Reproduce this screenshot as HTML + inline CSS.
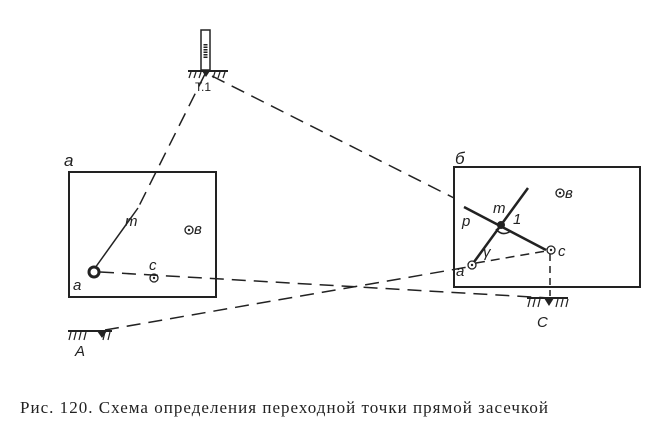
<!DOCTYPE html>
<html><head><meta charset="utf-8"><style>
body{margin:0;background:#fff;width:659px;height:447px;overflow:hidden}
svg{display:block}
text{font-family:"Liberation Sans",sans-serif;fill:#222}
</style></head><body>
<svg width="659" height="447" viewBox="0 0 659 447">
<g stroke="#222" fill="none">
<rect x="69" y="172" width="147" height="125" stroke-width="2"/>
<rect x="454" y="167" width="186" height="120" stroke-width="2"/>
<rect x="201" y="30" width="9" height="40" stroke-width="1.5"/>
<line x1="205.5" y1="44" x2="205.5" y2="58" stroke-width="4" stroke-dasharray="1.5,1"/>
<line x1="188" y1="71" x2="228" y2="71" stroke-width="2"/>
<g stroke-width="1.2"><line x1="191" y1="72" x2="189" y2="78"/><line x1="196" y1="72" x2="194" y2="78"/><line x1="201" y1="72" x2="199" y2="78"/><line x1="215" y1="72" x2="213" y2="78"/><line x1="220" y1="72" x2="218" y2="78"/><line x1="225" y1="72" x2="223" y2="78"/></g>
<g stroke-width="1.5" stroke-dasharray="14,8">
<line x1="205" y1="74" x2="138" y2="208"/>
<line x1="212" y1="76" x2="454" y2="198"/>
<line x1="100" y1="272" x2="549" y2="298"/>
<line x1="105" y1="330" x2="468" y2="267"/>
<line x1="476" y1="263" x2="546" y2="251" stroke-dasharray="9,6"/>
<line x1="550" y1="254" x2="550" y2="296" stroke-dasharray="7,5"/>
</g>
<line x1="138" y1="208" x2="95" y2="268" stroke-width="1.5"/>
<line x1="464" y1="207" x2="546" y2="250" stroke-width="2.5"/>
<line x1="528" y1="188" x2="474" y2="262" stroke-width="2.5"/>
<path d="M496 229 Q502 237 511 231" stroke-width="1.5"/>
<line x1="527" y1="298" x2="568" y2="298" stroke-width="2"/>
<g stroke-width="1.2"><line x1="530" y1="299" x2="528" y2="307"/><line x1="535" y1="299" x2="533" y2="307"/><line x1="540" y1="299" x2="538" y2="307"/><line x1="558" y1="299" x2="556" y2="307"/><line x1="563" y1="299" x2="561" y2="307"/><line x1="568" y1="299" x2="566" y2="307"/></g>
<line x1="68" y1="331" x2="112" y2="331" stroke-width="2"/>
<g stroke-width="1.2"><line x1="71" y1="332" x2="69" y2="340"/><line x1="76" y1="332" x2="74" y2="340"/><line x1="81" y1="332" x2="79" y2="340"/><line x1="86" y1="332" x2="84" y2="340"/><line x1="105" y1="332" x2="103" y2="340"/><line x1="110" y1="332" x2="108" y2="340"/></g>
<circle cx="94" cy="272" r="5" stroke-width="3"/>
<circle cx="154" cy="278" r="4" stroke-width="1.3"/>
<circle cx="189" cy="230" r="4" stroke-width="1.3"/>
<circle cx="472" cy="265" r="4" stroke-width="1.3"/>
<circle cx="551" cy="250" r="4" stroke-width="1.3"/>
<circle cx="560" cy="193" r="4" stroke-width="1.3"/>
</g>
<g fill="#222">
<circle cx="154" cy="278" r="1.2"/><circle cx="189" cy="230" r="1.2"/><circle cx="472" cy="265" r="1.2"/><circle cx="551" cy="250" r="1.2"/><circle cx="560" cy="193" r="1.2"/>
<circle cx="501" cy="225" r="4"/>
<polygon points="544,298 554,298 549,306"/>
<polygon points="97,331 107,331 102,338"/>
<polygon points="202,71 210,71 206,77"/>
</g>
<g font-style="italic" font-size="15">
<text x="64" y="166" font-size="17">а</text>
<text x="455" y="164" font-size="17">б</text>
<text x="125" y="226">m</text>
<text x="194" y="234">в</text>
<text x="149" y="270">c</text>
<text x="73" y="290">a</text>
<text x="493" y="213">m</text>
<text x="513" y="224">1</text>
<text x="462" y="226">p</text>
<text x="483" y="257">γ</text>
<text x="456" y="276">a</text>
<text x="558" y="256">c</text>
<text x="565" y="198">в</text>
<text x="537" y="327">C</text>
<text x="75" y="356">A</text>
</g>
<text x="195" y="91" font-size="12">Т.1</text>
<text x="20" y="413" font-size="17" textLength="528" lengthAdjust="spacing" style="font-family:'Liberation Serif',serif">Рис. 120. Схема определения переходной точки прямой засечкой</text>
</svg>
</body></html>
